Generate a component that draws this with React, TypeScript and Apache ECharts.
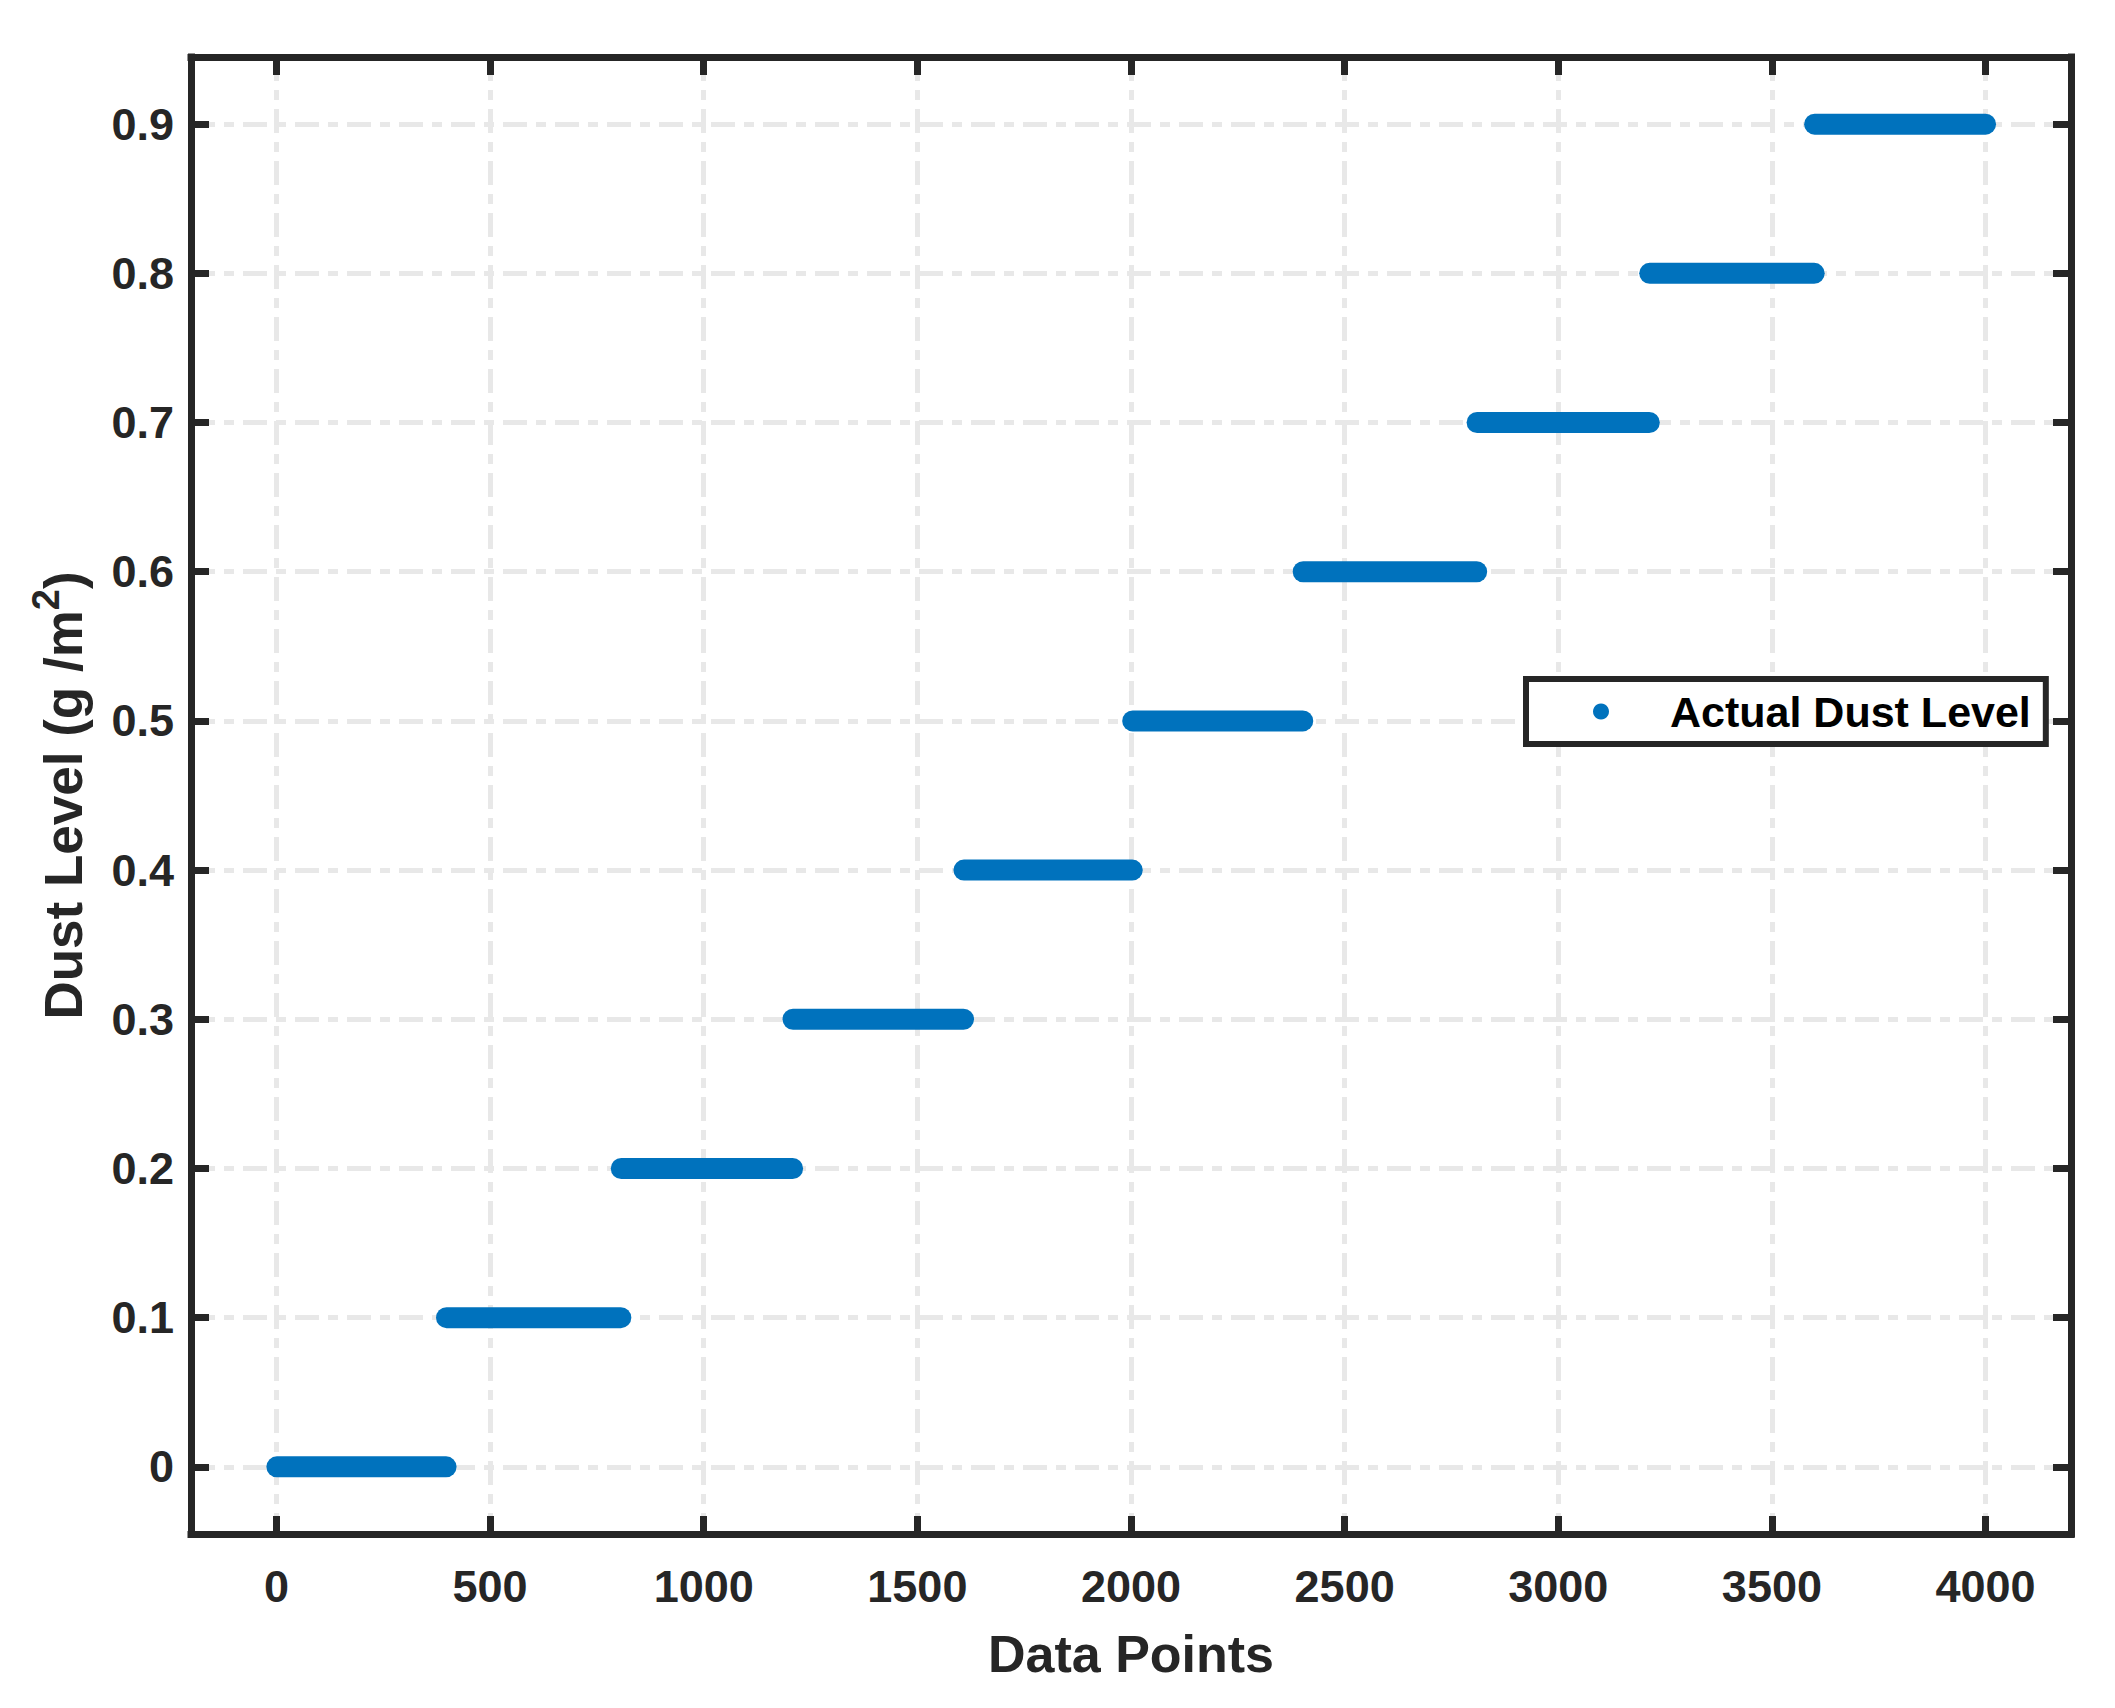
import React, { useEffect, useRef } from "react";
import * as echarts from "echarts";

const SERIES_NAME = "Actual Dust Level";
const dustLevels = [0, 0.1, 0.2, 0.3, 0.4, 0.5, 0.6, 0.7, 0.8, 0.9];
const segmentStart = [1, 398, 807, 1209, 1609, 2004, 2403, 2810, 3214, 3600];
const segmentEnd = [397, 806, 1208, 1608, 2003, 2402, 2809, 3213, 3599, 4000];
const xTicks = [0, 500, 1000, 1500, 2000, 2500, 3000, 3500, 4000];
const yTicks = [0, 0.1, 0.2, 0.3, 0.4, 0.5, 0.6, 0.7, 0.8, 0.9];
const X_MIN = -200;
const X_MAX = 4200;
const Y_MIN = -0.045;
const Y_MAX = 0.945;

const FONT = "'Liberation Sans', Arial, Helvetica, sans-serif";
const INK = "#262626";
const BLUE = "#0072BD";
const GRID_COLOR = "#e8e8e8";

export default function App() {
  const ref = useRef<HTMLDivElement>(null);

  useEffect(() => {
    if (!ref.current) return;
    const chart = echarts.init(ref.current, undefined, { renderer: "svg" });

    const tickStyle = { show: true, inside: true, length: 18, lineStyle: { color: INK, width: 7 } };
    const lineStyle = { show: true, onZero: false, lineStyle: { color: INK, width: 7, cap: "square" } };
    const gridLine = { show: true, lineStyle: { color: GRID_COLOR, width: 5, type: [24, 9, 10, 9] } };
    const labelStyle = { fontFamily: FONT, fontSize: 45, fontWeight: "bold", color: INK };

    const series = dustLevels.map((lvl, i) => ({
      type: "line",
      name: SERIES_NAME,
      data: [
        [segmentStart[i], lvl],
        [segmentEnd[i], lvl],
      ],
      symbol: "none",
      lineStyle: { color: BLUE, width: 21, cap: "round" },
      itemStyle: { color: BLUE },
      z: 3,
    }));

    chart.setOption({
      animation: false,
      backgroundColor: "#ffffff",
      grid: { left: 191, right: 44, top: 57, bottom: 174, containLabel: false },
      legend: {
        data: [{ name: SERIES_NAME, icon: "circle" }],
        left: 1526,
        top: 679,
        orient: "vertical",
        padding: [11, 15, 11, 67],
        itemWidth: 128,
        itemHeight: 16,
        backgroundColor: "#ffffff",
        borderColor: INK,
        borderWidth: 6,
        borderRadius: 0,
        textStyle: { fontFamily: FONT, fontSize: 43, fontWeight: "bold", color: "#000000" },
      },
      xAxis: [
        {
          type: "value",
          min: X_MIN,
          max: X_MAX,
          position: "bottom",
          axisLine: lineStyle,
          axisTick: { ...tickStyle, customValues: xTicks },
          axisLabel: { ...labelStyle, margin: 30, customValues: xTicks, formatter: (v: number) => String(v) },
          splitLine: gridLine,
          name: "Data Points",
          nameLocation: "middle",
          nameGap: 94,
          nameTextStyle: { fontFamily: FONT, fontSize: 52, fontWeight: "bold", color: INK },
        },
        {
          type: "value",
          min: X_MIN,
          max: X_MAX,
          position: "top",
          axisLine: lineStyle,
          axisTick: { ...tickStyle, customValues: xTicks },
          axisLabel: { show: false },
          splitLine: { show: false },
        },
      ],
      yAxis: [
        {
          type: "value",
          min: Y_MIN,
          max: Y_MAX,
          position: "left",
          axisLine: lineStyle,
          axisTick: { ...tickStyle, customValues: yTicks },
          axisLabel: {
            ...labelStyle,
            margin: 17,
            customValues: yTicks,
            formatter: (v: number) => (Math.abs(v) < 1e-9 ? "0" : String(Math.round(v * 10) / 10)),
          },
          splitLine: gridLine,
          name: "{b|Dust Level (g /m}{sup|2}{b|)}",
          nameLocation: "middle",
          nameGap: 92,
          nameRotate: 90,
          nameTextStyle: {
            fontFamily: FONT,
            fontSize: 53,
            fontWeight: "bold",
            color: INK,
            rich: {
              b: {
                fontFamily: FONT,
                fontSize: 53,
                fontWeight: "bold",
                color: INK,
                lineHeight: 72,
              },
              sup: {
                fontFamily: FONT,
                fontSize: 38,
                fontWeight: "bold",
                color: INK,
                lineHeight: 38,
                verticalAlign: "top",
              },
            },
          },
        },
        {
          type: "value",
          min: Y_MIN,
          max: Y_MAX,
          position: "right",
          axisLine: lineStyle,
          axisTick: { ...tickStyle, customValues: yTicks },
          axisLabel: { show: false },
          splitLine: { show: false },
        },
      ],
      series,
    });

    return () => chart.dispose();
  }, []);

  return (
    <div
      ref={ref}
      style={{ position: "absolute", left: 0, top: 0, width: 2115, height: 1708, background: "#fff" }}
    />
  );
}
